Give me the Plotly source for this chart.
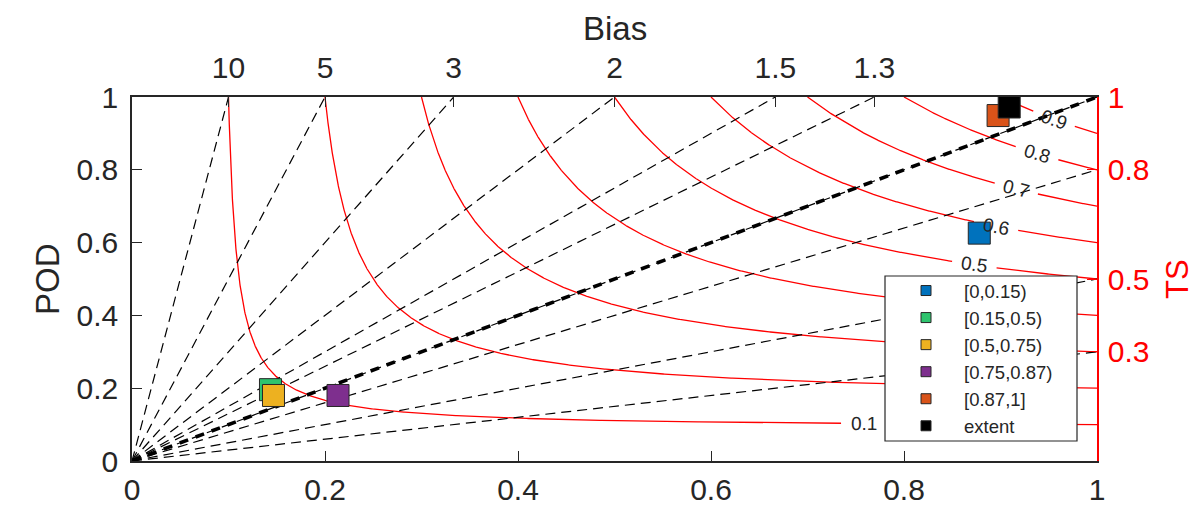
import numpy as np
import plotly.graph_objects as go

# Forecast categories plotted on the performance diagram
categories = ["[0,0.15)", "[0.15,0.5)", "[0.5,0.75)", "[0.75,0.87)", "[0.87,1]", "extent"]
success_ratio = [0.878, 0.1435, 0.1466, 0.2135, 0.8975, 0.909]
pod_values = [0.626, 0.196, 0.180, 0.180, 0.949, 0.9725]
marker_colors = ["#0072BD", "#2EC46E", "#EDB120", "#7E2F8E", "#D95319", "#000000"]

# Reference lines
bias_values = [10, 5, 3, 2, 1.5, 1.3, 1, 0.8, 0.5, 0.3]
bias_top_labels = ["10", "5", "3", "2", "1.5", "1.3"]
ts_values = [0.1, 0.2, 0.3, 0.4, 0.5, 0.6, 0.7, 0.8, 0.9]
ts_axis_ticks = [0.3, 0.5, 0.8, 1.0]
ts_axis_labels = ["0.3", "0.5", "0.8", "1"]
xy_ticks = [0, 0.2, 0.4, 0.6, 0.8, 1.0]
xy_tick_labels = ["0", "0.2", "0.4", "0.6", "0.8", "1"]

# Inline contour labels: TS value -> success ratio where the label sits
ts_label_sr = {0.1: 0.7585, 0.5: 0.8725, 0.6: 0.8953, 0.7: 0.9161, 0.8: 0.9378, 0.9: 0.9554}

FONT = "Liberation Sans, Arial, Helvetica, sans-serif"
AXIS_COLOR = "#262626"
W, H = 1196, 506
M_L, M_R, M_T, M_B = 132, 99, 97, 45
PW, PH = W - M_L - M_R, H - M_T - M_B   # plot area in pixels
LABEL_GAP_PX = 22
TICK_FONT = 30
TITLE_FONT = 33
# Legend box, in pixels from the figure's top-left corner
LEG_LEFT, LEG_RIGHT, LEG_TOP, LEG_BOTTOM = 885, 1077, 276, 441


def ts_curve_pod(ts, sr):
    return 1.0 / (1.0 / ts + 1.0 - 1.0 / sr)


def px_to_paper_x(px):
    return (px - M_L) / PW


def px_to_paper_y(py):
    return (H - M_B - py) / PH


fig = go.Figure()

# Critical success index (TS) curves, with gaps where the labels go
for ts in ts_values:
    t = np.linspace(0, 1, 900)
    sr = ts + (1 - ts) * t ** 2
    pod = ts_curve_pod(ts, sr)
    sr = sr.astype(object)
    pod = pod.astype(object)
    if ts in ts_label_sr:
        lsr = ts_label_sr[ts]
        lpod = ts_curve_pod(ts, lsr)
        d = np.hypot((sr.astype(float) - lsr) * PW, (pod.astype(float) - lpod) * PH)
        mask = d < LABEL_GAP_PX
        sr[mask] = None
        pod[mask] = None
    fig.add_trace(go.Scatter(x=sr, y=pod, mode="lines", line=dict(color="red", width=1.3),
                             hoverinfo="skip", showlegend=False, connectgaps=False))

# Frequency bias lines from the origin
for b in bias_values:
    end = (1.0 / b, 1.0) if b >= 1 else (1.0, b)
    fig.add_trace(go.Scatter(x=[0, end[0]], y=[0, end[1]], mode="lines",
                             line=dict(color="black", width=1.2, dash="10px,6px"),
                             hoverinfo="skip", showlegend=False))
    if b == 1:
        fig.add_trace(go.Scatter(x=[0, end[0]], y=[0, end[1]], mode="lines",
                                 line=dict(color="black", width=3.6, dash="9px,8px"),
                                 hoverinfo="skip", showlegend=False))

# Contour labels
for ts, lsr in ts_label_sr.items():
    lpod = ts_curve_pod(ts, lsr)
    slope_px = (lpod / lsr) ** 2 * PH / PW
    angle = float(np.degrees(np.arctan(slope_px)))
    fig.add_annotation(x=lsr, y=lpod, xref="x", yref="y", text=f"{ts:g}", showarrow=False,
                       textangle=angle, font=dict(size=19, color=AXIS_COLOR, family=FONT))

# Data points
for name, x, y, c in zip(categories, success_ratio, pod_values, marker_colors):
    fig.add_trace(go.Scatter(x=[x], y=[y], mode="markers", name=name, showlegend=False,
                             cliponaxis=False,
                             marker=dict(symbol="square", size=22, color=c,
                                         line=dict(color=AXIS_COLOR, width=1))))
# Legend entries with small swatches
for name, c in zip(categories, marker_colors):
    fig.add_trace(go.Scatter(x=[None], y=[None], mode="markers", name=name,
                             marker=dict(symbol="square", size=10, color=c,
                                         line=dict(color=AXIS_COLOR, width=1))))

# Invisible trace to anchor the secondary axes
fig.add_trace(go.Scatter(x=[None], y=[None], xaxis="x2", yaxis="y2", showlegend=False,
                         hoverinfo="skip"))

axis_common = dict(range=[0, 1], showgrid=False, zeroline=False, showline=True,
                   linecolor=AXIS_COLOR, linewidth=1.6, ticks="inside", ticklen=10,
                   tickwidth=1.4, tickcolor=AXIS_COLOR, automargin=False,
                   tickfont=dict(size=TICK_FONT, color=AXIS_COLOR, family=FONT))

fig.update_layout(
    width=W, height=H,
    margin=dict(l=M_L, r=M_R, t=M_T, b=M_B),
    paper_bgcolor="white", plot_bgcolor="white",
    font=dict(family=FONT, color=AXIS_COLOR),
    xaxis=dict(**axis_common, tickvals=xy_ticks, ticktext=xy_tick_labels, ticklabelstandoff=1),
    yaxis=dict(**axis_common, tickvals=xy_ticks, ticktext=xy_tick_labels, ticklabelstandoff=6),
    xaxis2=dict(**axis_common, overlaying="x", side="top", ticklabelstandoff=5,
                tickvals=[1.0 / b for b in bias_values if b > 1],
                ticktext=bias_top_labels),
    yaxis2=dict(range=[0, 1], overlaying="y", side="right", showgrid=False, zeroline=False,
                showline=True, linecolor="red", linewidth=1.6, ticks="inside", ticklen=10,
                tickwidth=1.4, tickcolor="red", tickvals=ts_axis_ticks, ticktext=ts_axis_labels,
                automargin=False,
                tickfont=dict(size=TICK_FONT, color="red", family=FONT), ticklabelstandoff=3),
    legend=dict(x=px_to_paper_x(LEG_LEFT + 3), xanchor="left",
                y=px_to_paper_y((LEG_TOP + LEG_BOTTOM) / 2), yanchor="middle",
                bgcolor="rgba(0,0,0,0)", borderwidth=0,
                font=dict(size=18.5, color=AXIS_COLOR, family=FONT),
                itemwidth=66, tracegroupgap=0),
    showlegend=True,
    # Legend frame drawn over the curves; the legend entries sit on top of it
    shapes=[dict(type="rect", xref="paper", yref="paper", layer="above",
                 x0=px_to_paper_x(LEG_LEFT), x1=px_to_paper_x(LEG_RIGHT),
                 y0=px_to_paper_y(LEG_BOTTOM), y1=px_to_paper_y(LEG_TOP),
                 fillcolor="white", line=dict(color=AXIS_COLOR, width=1.2))],
)

fig.add_annotation(text="POD", x=px_to_paper_x(47), y=0.5, xref="paper", yref="paper",
                   xanchor="center", yanchor="middle", showarrow=False,
                   textangle=-90, font=dict(size=TITLE_FONT, color=AXIS_COLOR, family=FONT))
fig.add_annotation(text="TS", x=px_to_paper_x(1177), y=0.5, xref="paper", yref="paper",
                   xanchor="center", yanchor="middle", showarrow=False, textangle=-90,
                   font=dict(size=31, color="red", family=FONT))
fig.add_annotation(text="Bias", x=0.5, y=px_to_paper_y(28), xref="paper", yref="paper",
                   xanchor="center", yanchor="middle", showarrow=False,
                   font=dict(size=TITLE_FONT, color=AXIS_COLOR, family=FONT))

fig.write_html("out.html")
